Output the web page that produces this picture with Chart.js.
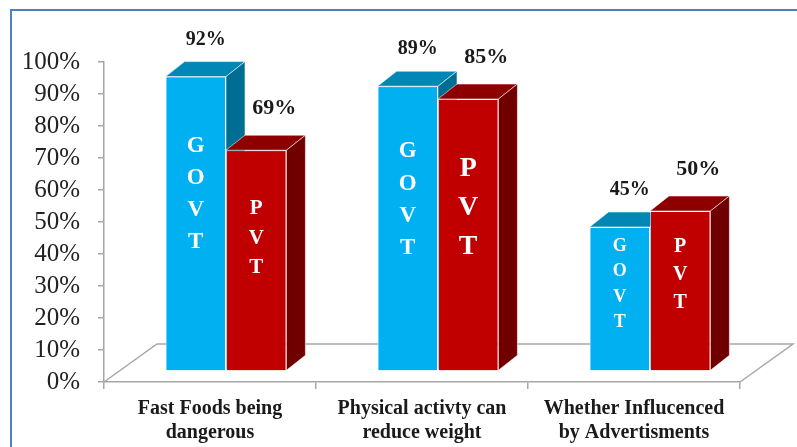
<!DOCTYPE html>
<html>
<head>
<meta charset="utf-8">
<script src="https://cdn.jsdelivr.net/npm/chart.js@4/dist/chart.umd.min.js"></script>
<style>
  html, body { margin: 0; padding: 0; background: #fff; overflow: hidden; }
  #wrap { position: relative; width: 797px; height: 447px; }
  #frame { position: absolute; left: 10px; top: 9px; width: 820px; height: 470px; border: 2px solid #4F81BD; }
  canvas { position: absolute; left: 0; top: 0; }
</style>
</head>
<body>
<div id="wrap">
  <div id="frame"></div>
  <canvas id="myChart" width="797" height="447"></canvas>
</div>
<script>
const categories = [
  ['Fast Foods being', 'dangerous'],
  ['Physical activty can', 'reduce weight'],
  ['Whether Influcenced', 'by Advertisments']
]
const govt = [92, 89, 45]
const pvt = [69, 85, 50]
const seriesNames = ['GOVT', 'PVT']
const yMax = 100
const yStep = 10

// 3d look
const SHIFT = { x: 16, y: -11 }
const DEPTH = { x: 19, y: -15 }
const FLOOR = { x: 53, y: -38 }
const faces = [
  { front: '#00B0F0', top: '#0087B6', side: '#006D92' },
  { front: '#C00000', top: '#8E0000', side: '#700000' }
]
// letter size inside each bar [dataset][category]
const letterSize = [[23, 23, 18], [21, 28, 20]]
const valueFont = [20, 22]
const valueOffset = [{ x: 10, y: -37 }, { x: 18, y: -42 }]

const serif = "'Liberation Serif', 'Times New Roman', serif"
const edge = 'rgba(255,255,255,0.55)'

function drawFaces(ctx, p, c) {
  const l = p.x - p.width / 2, r = p.x + p.width / 2, t = p.y, b = p.base
  ctx.strokeStyle = edge
  ctx.lineWidth = 1
  ctx.fillStyle = c.top
  ctx.beginPath()
  ctx.moveTo(l, t)
  ctx.lineTo(l + DEPTH.x, t + DEPTH.y)
  ctx.lineTo(r + DEPTH.x, t + DEPTH.y)
  ctx.lineTo(r, t)
  ctx.closePath()
  ctx.fill()
  ctx.stroke()
  ctx.fillStyle = c.side
  ctx.beginPath()
  ctx.moveTo(r, t)
  ctx.lineTo(r + DEPTH.x, t + DEPTH.y)
  ctx.lineTo(r + DEPTH.x, b + DEPTH.y)
  ctx.lineTo(r, b)
  ctx.closePath()
  ctx.fill()
  ctx.stroke()
}

const bars3d = {
  id: 'bars3d',
  beforeDatasetsDraw(chart) {
    const ctx = chart.ctx
    const xs = chart.scales.x
    const b = chart.scales.y.getPixelForValue(0)
    ctx.save()
    ctx.strokeStyle = '#A6A6A6'
    ctx.lineWidth = 1.5
    ctx.beginPath()
    ctx.moveTo(xs.left, b)
    ctx.lineTo(xs.left + FLOOR.x, b + FLOOR.y)
    ctx.lineTo(xs.right + FLOOR.x, b + FLOOR.y)
    ctx.lineTo(xs.right, b)
    ctx.stroke()
    ctx.restore()
  },
  beforeDatasetDraw(chart) {
    chart.ctx.save()
    chart.ctx.translate(SHIFT.x, SHIFT.y)
  },
  afterDatasetDraw(chart) {
    chart.ctx.restore()
  },
  afterDatasetsDraw(chart) {
    const ctx = chart.ctx
    ctx.save()
    ctx.translate(SHIFT.x, SHIFT.y)
    const metas = [chart.getDatasetMeta(0), chart.getDatasetMeta(1)]
    categories.forEach((cat, i) => {
      metas.forEach((meta, ds) => {
        const bar = meta.data[i]
        // front again so it sits over the neighbour's side face
        bar.draw(ctx)
        drawFaces(ctx, bar.getProps(['x', 'y', 'base', 'width'], true), faces[ds])
      })
    })
    metas.forEach((meta, ds) => {
      const word = seriesNames[ds]
      meta.data.forEach((bar, i) => {
        const p = bar.getProps(['x', 'y', 'base'], true)
        const fs = letterSize[ds][i]
        const gap = fs * 1.4
        const mid = p.y + (p.base - p.y) * 0.4
        const start = mid - gap * (word.length - 1) / 2
        ctx.fillStyle = '#fff'
        ctx.font = 'bold ' + fs + 'px ' + serif
        ctx.textAlign = 'center'
        ctx.textBaseline = 'middle'
        for (let k = 0; k < word.length; k++) {
          ctx.fillText(word[k], p.x, start + k * gap)
        }
        const v = chart.data.datasets[ds].data[i]
        ctx.fillStyle = '#1a1a1a'
        ctx.font = 'bold ' + valueFont[ds] + 'px ' + serif
        ctx.fillText(v + '%', p.x + valueOffset[ds].x, p.y + valueOffset[ds].y)
      })
    })
    ctx.restore()
  }
}

const ctx = document.getElementById('myChart').getContext('2d')
const chart = new Chart(ctx, {
  type: 'bar',
  data: {
    labels: categories,
    datasets: [{
      label: seriesNames[0],
      data: govt,
      backgroundColor: faces[0].front,
      borderColor: edge,
      borderWidth: 1,
      clip: false
    }, {
      label: seriesNames[1],
      data: pvt,
      backgroundColor: faces[1].front,
      borderColor: edge,
      borderWidth: 1,
      clip: false
    }]
  },
  options: {
    responsive: false,
    devicePixelRatio: 1,
    animation: false,
    layout: { padding: { top: 62, right: 57, left: 0, bottom: 0 } },
    datasets: { bar: { categoryPercentage: 0.57, barPercentage: 1.0 } },
    plugins: {
      legend: { display: false },
      tooltip: { enabled: false }
    },
    scales: {
      x: {
        afterFit: s => { s.height = 65 },
        grid: { offset: true, drawOnChartArea: false, tickLength: 7, color: '#A6A6A6', lineWidth: 1.5 },
        border: { color: '#A6A6A6', width: 1.5 },
        ticks: {
          color: '#1a1a1a',
          padding: 8,
          maxRotation: 0,
          font: { family: serif, size: 20, weight: 'bold' }
        }
      },
      y: {
        min: 0,
        max: yMax,
        afterFit: s => { s.width = 104 },
        grid: { drawOnChartArea: false, tickLength: 6, color: '#A6A6A6', lineWidth: 1.5 },
        border: { color: '#A6A6A6', width: 1.5 },
        ticks: {
          stepSize: yStep,
          autoSkip: false,
          color: '#222',
          padding: 18,
          font: { family: serif, size: 25 },
          callback: v => v + '%'
        }
      }
    }
  },
  plugins: [bars3d]
})
</script>
</body>
</html>
